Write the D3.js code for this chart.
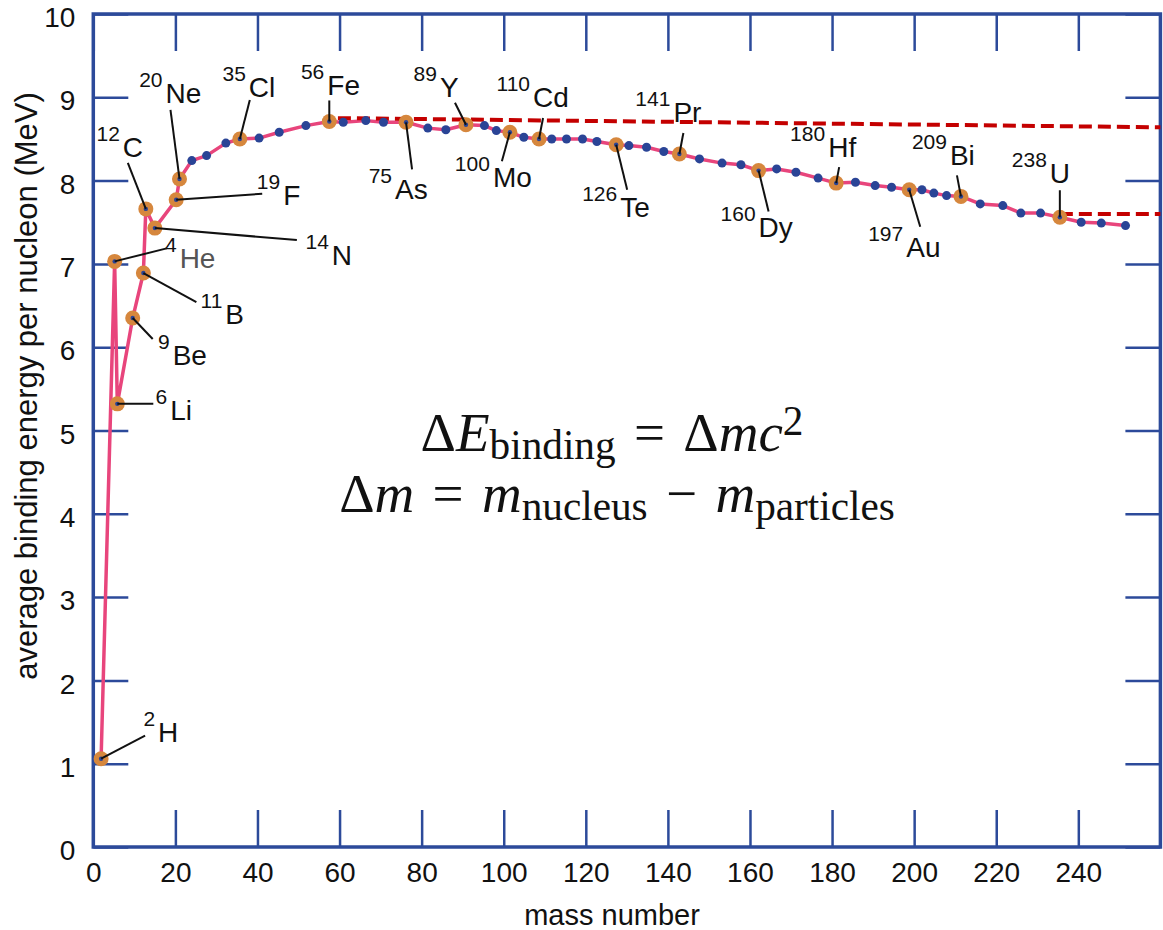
<!DOCTYPE html>
<html>
<head>
<meta charset="utf-8">
<script src="https://cdn.jsdelivr.net/npm/d3@7"></script>
<style>
  body { margin: 0; background: #fff; }
  svg text { font-family: "Liberation Sans", Arial, Helvetica, sans-serif; fill: #111; }
  .axis line { stroke: #2c4a9a; stroke-width: 2.5; }
  .axis path { display: none; }
  .axis text { font-size: 28px; }
</style>
</head>
<body>
<svg id="chart" width="1163" height="930"></svg>
<script>
// binding energy curve
const massNumber = [1.9, 5.2, 5.85, 9.6, 12.2, 12.8, 15.0, 20.2, 21.0, 24.0, 27.6, 32.3, 35.7, 40.4, 45.3, 51.8,
    57.5, 60.9, 66.4, 70.7, 76.2, 81.5, 85.9, 90.8, 95.3, 98.2, 101.5, 104.9, 108.6, 111.7, 115.3, 119.2,
    122.7, 127.4, 130.5, 134.8, 139.0, 142.8, 147.7, 153.2, 157.8, 162.1, 166.5, 171.2, 176.6, 181.0, 185.7,
    190.5, 194.5, 198.8, 201.9, 204.8, 207.9, 211.4, 216.1, 221.6, 226.0, 230.8, 235.5, 240.7, 245.6, 251.5];
const bindingEnergy = [1.06, 7.03, 5.32, 6.35, 6.89, 7.66, 7.43, 7.77, 8.02, 8.24, 8.30, 8.45, 8.50, 8.51, 8.58, 8.66,
    8.71, 8.70, 8.72, 8.70, 8.70, 8.63, 8.61, 8.67, 8.66, 8.60, 8.58, 8.52, 8.50, 8.50, 8.50, 8.50,
    8.47, 8.43, 8.42, 8.40, 8.35, 8.32, 8.26, 8.21, 8.19, 8.12, 8.14, 8.10, 8.03, 7.97, 7.98,
    7.94, 7.92, 7.89, 7.89, 7.85, 7.82, 7.81, 7.72, 7.70, 7.61, 7.61, 7.56, 7.50, 7.49, 7.46];

// labelled nuclides (index into the curve)
const labelIndex = [0, 1, 2, 3, 4, 5, 6, 7, 8, 12, 16, 20, 23, 26, 28, 33, 37, 41, 45, 49, 53, 58];
const labelMass = ['2', '4', '6', '9', '11', '12', '14', '19', '20', '35', '56', '75', '89', '100', '110', '126', '141', '160', '180', '197', '209', '238'];
const labelSymbol = ['H', 'He', 'Li', 'Be', 'B', 'C', 'N', 'F', 'Ne', 'Cl', 'Fe', 'As', 'Y', 'Mo', 'Cd', 'Te', 'Pr', 'Dy', 'Hf', 'Au', 'Bi', 'U'];

// red dashed reference lines
const topDashMass = [59.6, 260];
const topDashEnergy = [8.75, 8.64];
const uDashMass = [235.5, 260];
const uDashEnergy = [7.60, 7.60];

const xTicks = [0, 20, 40, 60, 80, 100, 120, 140, 160, 180, 200, 220, 240];
const yTicks = [0, 1, 2, 3, 4, 5, 6, 7, 8, 9, 10];

// leader end (dx, dy) and symbol position (dx, dy) relative to the point, in px
const labelOffset = {
    H: [44, -23, 57, -17], He: [52, -13, 65, 7], Li: [36, 0, 53, 16], Be: [20, 21, 40, 47],
    B: [53, 29, 82, 51], C: [-18, -46, -23, -52], N: [142, 12, 177, 37], F: [86, -6, 107, 5],
    Ne: [-9, -69, -14, -76], Cl: [10, -39, 9, -42], Fe: [0, -21, -2, -26], As: [6, 47, -11, 77],
    Y: [-11, -22, -26, -28], Mo: [-8, 29, -17, 55], Cd: [4, -21, -6, -32], Te: [11, 45, 4, 72],
    Pr: [4, -21, -6, -32], Dy: [10, 41, 0, 66], Hf: [3, -16, -8, -26], Au: [11, 37, -3, 67],
    Bi: [-4, -21, -11, -31], U: [0, -27, -10, -34]
};

const svg = d3.select('#chart');

const x = d3.scaleLinear().domain([0, 260]).range([93.3, 1160.4]);
const y = d3.scaleLinear().domain([0, 10]).range([847, 14]);

// axes, ticks pointing inward on all four sides
svg.append('g').attr('class', 'axis')
    .attr('transform', `translate(0,${y(0)})`)
    .call(d3.axisBottom(x).tickValues(xTicks).tickSize(-37).tickPadding(15));
svg.append('g').attr('class', 'axis')
    .attr('transform', `translate(0,${y(10)})`)
    .call(d3.axisTop(x).tickValues(xTicks).tickSize(-37).tickFormat(''));
svg.append('g').attr('class', 'axis y-left')
    .attr('transform', `translate(${x(0)},0)`)
    .call(d3.axisLeft(y).tickValues(yTicks).tickSize(-35).tickPadding(18));
svg.append('g').attr('class', 'axis')
    .attr('transform', `translate(${x(260)},0)`)
    .call(d3.axisRight(y).tickValues(yTicks).tickSize(-35).tickFormat(''));
svg.selectAll('.y-left text').attr('dy', '0.45em');

svg.append('rect')
    .attr('x', x(0)).attr('y', y(10))
    .attr('width', x(260) - x(0)).attr('height', y(0) - y(10))
    .attr('fill', 'none').attr('stroke', '#2c4a9a').attr('stroke-width', 3.5);

// axis titles
svg.append('text')
    .attr('x', 612).attr('y', 925)
    .attr('text-anchor', 'middle')
    .style('font-size', '29px')
    .text('mass number');
svg.append('text')
    .attr('transform', 'translate(37,386) rotate(-90)')
    .attr('text-anchor', 'middle')
    .style('font-size', '31px')
    .text('average binding energy per nucleon (MeV)');

const idx = d3.range(massNumber.length);
const curve = d3.line()
    .x(i => x(massNumber[i]))
    .y(i => y(bindingEnergy[i]));

svg.append('path')
    .attr('d', curve(idx))
    .attr('fill', 'none')
    .attr('stroke', '#e8457c')
    .attr('stroke-width', 3.5)
    .attr('stroke-linejoin', 'round');

const dashLine = d3.line().x(d => x(d[0])).y(d => y(d[1]));
[[topDashMass, topDashEnergy], [uDashMass, uDashEnergy]].forEach(([m, e]) => {
    svg.append('path')
        .attr('d', dashLine(d3.zip(m, e)))
        .attr('fill', 'none')
        .attr('stroke', '#c40000')
        .attr('stroke-width', 4)
        .attr('stroke-dasharray', '13,6');
});

// plain points
svg.selectAll('.dot')
    .data(idx.filter(i => !labelIndex.includes(i)))
    .enter()
    .append('circle')
    .attr('class', 'dot')
    .attr('cx', i => x(massNumber[i]))
    .attr('cy', i => y(bindingEnergy[i]))
    .attr('r', 4.5)
    .attr('fill', '#2a4496');

// labelled points
const labels = labelIndex.map((i, k) => ({ i, mass: labelMass[k], sym: labelSymbol[k] }));

svg.selectAll('.hl')
    .data(labels)
    .enter()
    .append('circle')
    .attr('class', 'hl')
    .attr('cx', d => x(massNumber[d.i]))
    .attr('cy', d => y(bindingEnergy[d.i]))
    .attr('r', 7.5)
    .attr('fill', '#d6873d');

svg.selectAll('.hl-c')
    .data(labels)
    .enter()
    .append('circle')
    .attr('class', 'hl-c')
    .attr('cx', d => x(massNumber[d.i]))
    .attr('cy', d => y(bindingEnergy[d.i]))
    .attr('r', 2.2)
    .attr('fill', '#2a4496');

labels.forEach(d => {
    const px = x(massNumber[d.i]);
    const py = y(bindingEnergy[d.i]);
    const o = labelOffset[d.sym];
    svg.append('line')
        .attr('x1', px).attr('y1', py)
        .attr('x2', px + o[0]).attr('y2', py + o[1])
        .attr('stroke', '#111')
        .attr('stroke-width', 2);
    svg.append('text')
        .attr('x', px + o[2] - 3).attr('y', py + o[3] - 16)
        .attr('text-anchor', 'end')
        .style('font-size', '21px')
        .text(d.mass);
    svg.append('text')
        .attr('x', px + o[2]).attr('y', py + o[3])
        .style('font-size', '28px')
        .style('fill', d.sym === 'He' ? '#555' : '#111')
        .text(d.sym);
});

// formula
const serif = '"Liberation Serif", "DejaVu Serif", serif';
const eq = '\u2004=\u2004';
const row1 = svg.append('text')
    .attr('x', 612).attr('y', 451)
    .attr('text-anchor', 'middle')
    .style('font-family', serif)
    .style('font-size', '55px');
row1.append('tspan').text('Δ');
row1.append('tspan').style('font-style', 'italic').text('E');
row1.append('tspan').attr('dy', '0.2em').style('font-size', '0.75em').text('binding');
row1.append('tspan').attr('dy', '-0.15em').text(eq + 'Δ');
row1.append('tspan').style('font-style', 'italic').text('mc');
row1.append('tspan').attr('dy', '-0.4em').style('font-size', '0.75em').text('2');

const row2 = svg.append('text')
    .attr('x', 617).attr('y', 512)
    .attr('text-anchor', 'middle')
    .style('font-family', serif)
    .style('font-size', '55px');
row2.append('tspan').text('Δ');
row2.append('tspan').style('font-style', 'italic').text('m');
row2.append('tspan').text(eq);
row2.append('tspan').style('font-style', 'italic').text('m');
row2.append('tspan').attr('dy', '0.2em').style('font-size', '0.75em').text('nucleus');
row2.append('tspan').attr('dy', '-0.15em').text('\u2004−\u2004');
row2.append('tspan').style('font-style', 'italic').text('m');
row2.append('tspan').attr('dy', '0.2em').style('font-size', '0.75em').text('particles');
</script>
</body>
</html>
